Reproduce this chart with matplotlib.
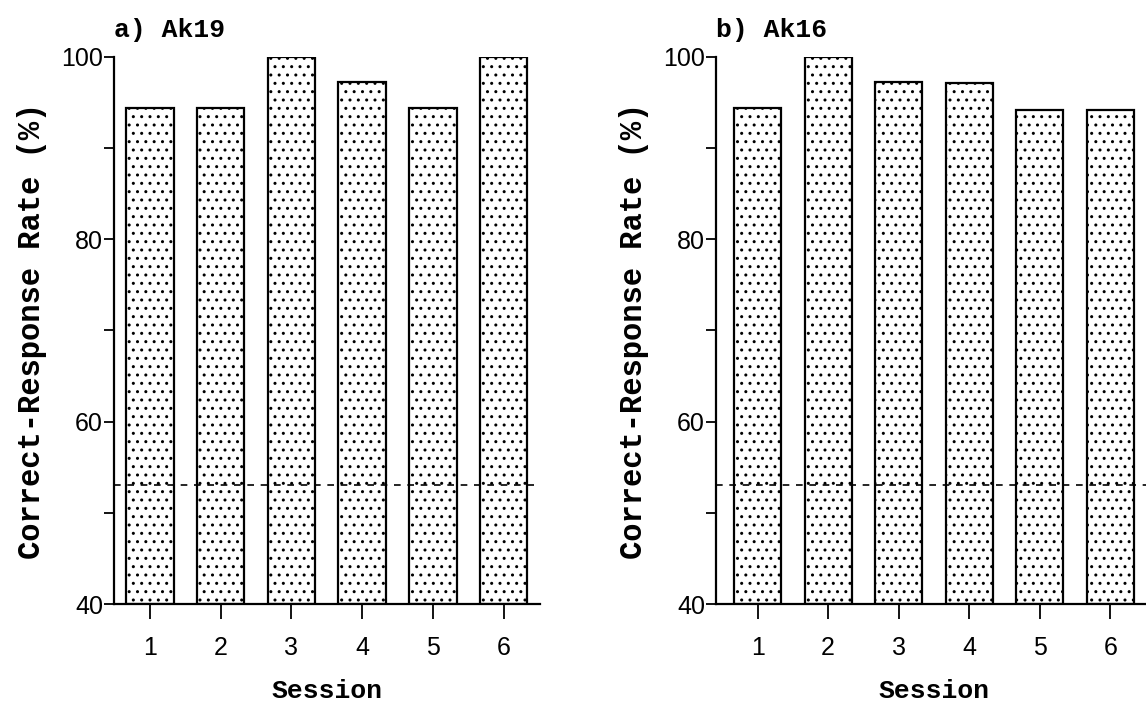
import matplotlib
matplotlib.use("Agg")
import matplotlib.pyplot as plt

sessions = [1, 2, 3, 4, 5, 6]
ak19 = [94.4, 94.4, 100.0, 97.2, 94.4, 100.0]
ak16 = [94.4, 100.0, 97.2, 97.1, 94.2, 94.2]
chance = 53.0
titles = ["a) Ak19", "b) Ak16"]

plt.rcParams['hatch.linewidth'] = 1.0
lab_font = dict(family=['Liberation Mono', 'DejaVu Sans Mono'], fontweight='bold')
tick_font = ['Liberation Sans Narrow', 'Liberation Sans', 'DejaVu Sans']

fig = plt.figure(figsize=(11.46, 7.17), dpi=100)
ax1 = fig.add_axes([0.0995, 0.1576, 0.372, 0.763])
ax2 = fig.add_axes([0.6248, 0.1576, 0.381, 0.763])

panels = [(ax1, ak19, (0.49, 6.52)), (ax2, ak16, (0.41, 6.6))]
for (ax, vals, xl), title in zip(panels, titles):
    ax.bar(sessions, [v - 40 for v in vals], bottom=40, width=0.67,
           color='white', edgecolor='black', linewidth=1.6, hatch='..')
    ax.axhline(chance, color='black', linestyle=(0, (4, 4)), linewidth=1.2)
    ax.set_xlim(*xl)
    ax.set_ylim(40, 100)
    ax.spines['top'].set_visible(False)
    ax.spines['right'].set_visible(False)
    ax.spines['left'].set_linewidth(1.6)
    ax.spines['bottom'].set_linewidth(1.6)
    ax.spines['bottom'].set_zorder(5)
    ax.set_yticks([40, 60, 80, 100])
    ax.set_yticks([50, 70, 90], minor=True)
    ax.set_xticks(sessions)
    ax.tick_params(axis='y', which='both', direction='out', length=7, width=1.3, pad=1)
    ax.tick_params(axis='x', direction='out', length=11, width=1.3, pad=12)
    for lab in ax.get_xticklabels() + ax.get_yticklabels():
        lab.set_family(tick_font)
        lab.set_fontsize(18)
    ax.set_xlabel("Session", fontsize=19, labelpad=14, **lab_font)
    ax.set_ylabel("Correct-Response Rate (%)", fontsize=22, labelpad=10, **lab_font)
    ax.set_title(title, loc='left', fontsize=19, pad=14, **lab_font)

fig.savefig("out.png", dpi=100)
